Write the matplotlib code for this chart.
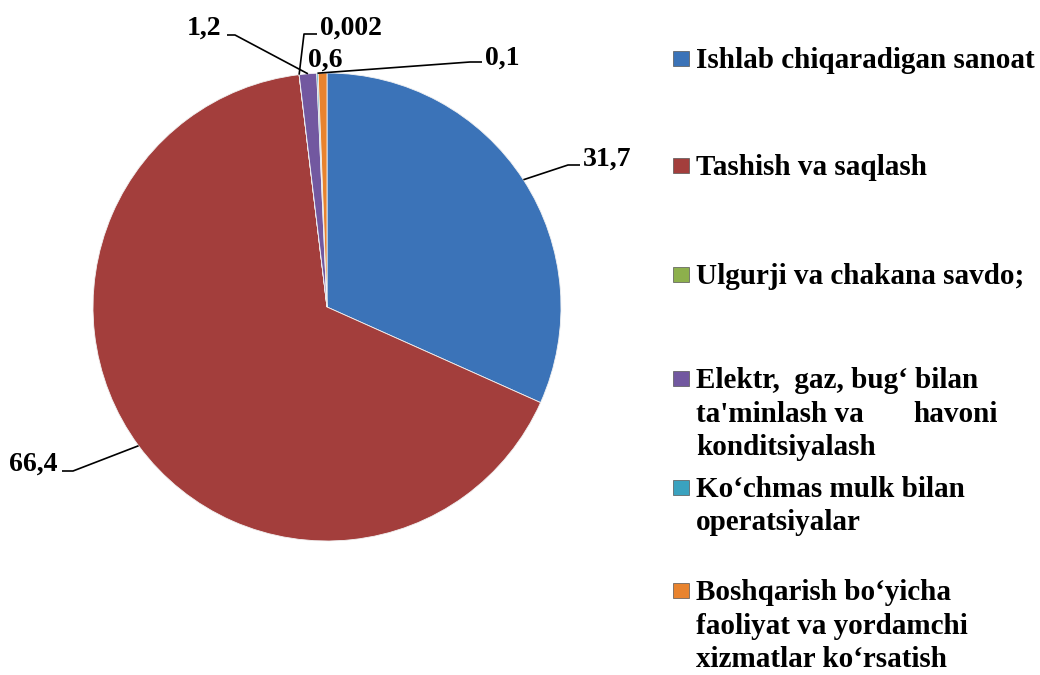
import numpy as np
import matplotlib.pyplot as plt
from matplotlib.patches import Rectangle

categories = [
    ["Ishlab chiqaradigan sanoat"],
    ["Tashish va saqlash"],
    ["Ulgurji va chakana savdo;"],
    ["Elektr,  gaz, bug‘ bilan", "ta'minlash va|havoni", "konditsiyalash"],
    ["Ko‘chmas mulk bilan", "operatsiyalar"],
    ["Boshqarish bo‘yicha", "faoliyat va yordamchi", "xizmatlar ko‘rsatish"],
]
values = [31.7, 66.4, 0.002, 1.2, 0.1, 0.6]
value_labels = ["31,7", "66,4", "0,002", "1,2", "0,1", "0,6"]
colors = ["#3b73b8", "#a33e3c", "#8db04c", "#7258a0", "#3aa2bf", "#e8832e"]

plt.rcParams['font.family'] = ['Liberation Serif', 'DejaVu Serif']
plt.rcParams['font.weight'] = 'bold'

W, H = 1040, 675
fig = plt.figure(figsize=(10.4, 6.75), dpi=100)
ax = fig.add_axes([0, 0, 1, 1])

def fy(y):
    # picture rows -> data y
    return H - y

cx, cy, r = 327, fy(307), 234
wedges, _ = ax.pie(values, colors=colors, startangle=90, counterclock=False,
                   center=(cx, cy), radius=r,
                   wedgeprops=dict(linewidth=0.6, edgecolor='#f2f2f2'))
ax.set_xlim(0, W)
ax.set_ylim(0, H)
ax.axis('off')

# label layout: text x, baseline y, alignment, elbow points (picture coords)
layout = [
    (583, 166, 'left',  [(568, 165), (580, 165)]),
    (58, 471, 'right',  [(73, 471), (62, 471)]),
    (320, 35, 'left',   [(304, 34), (317, 34)]),
    (221, 35, 'right',  [(235, 35), (227, 35)]),
    (485, 65, 'left',   [(470, 62), (482, 62)]),
    (308, 67, 'left',   None),
]
for w, lab, (tx, ty, ha, elbow) in zip(wedges, value_labels, layout):
    if elbow is not None:
        mid = np.deg2rad((w.theta1 + w.theta2) / 2)
        xs = [cx + r * np.cos(mid)] + [p[0] for p in elbow]
        ys = [cy + r * np.sin(mid)] + [fy(p[1]) for p in elbow]
        ax.plot(xs, ys, color='black', lw=1.2, solid_capstyle='butt')
    ax.text(tx, fy(ty), lab, ha=ha, va='baseline', fontsize=20)

# legend drawn by hand
starts = [68, 175, 284, 388, 497, 600]
step = 33.5
for lines, col, b in zip(categories, colors, starts):
    ax.add_patch(Rectangle((673, fy(b - 2)), 16, 15, facecolor=col,
                           edgecolor='#555555', lw=0.5))
    for i, line in enumerate(lines):
        y = fy(b + i * step)
        if '|' in line:
            left, right = line.split('|')
            ax.text(696, y, left, ha='left', va='baseline', fontsize=21)
            ax.text(998, y, right, ha='right', va='baseline', fontsize=21)
        else:
            ax.text(696, y, line, ha='left', va='baseline', fontsize=21)

fig.savefig('out.png', dpi=100)
